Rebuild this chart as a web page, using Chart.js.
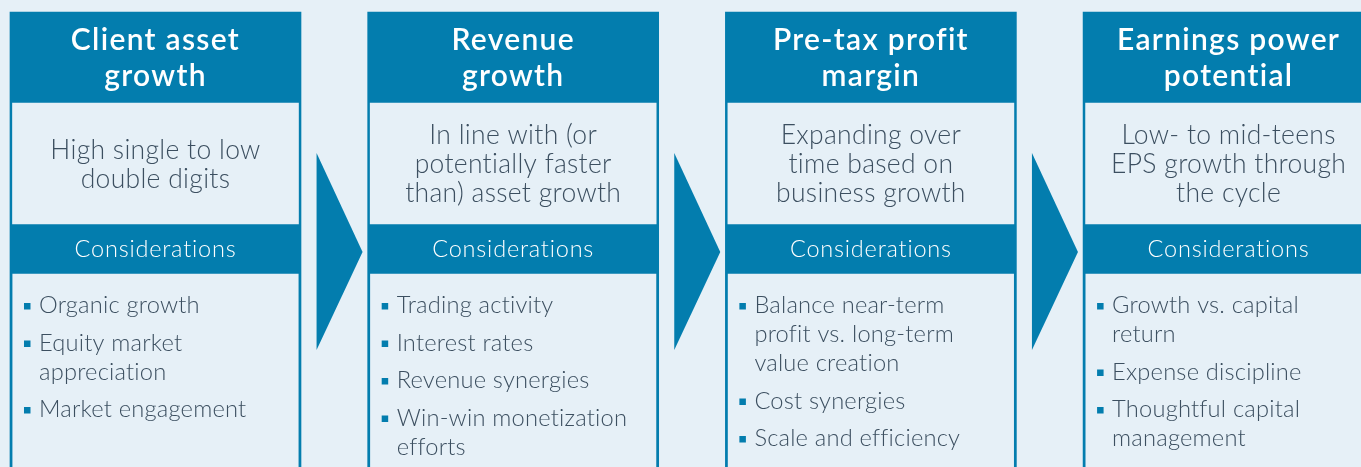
<!DOCTYPE html>
<html>
<head>
<meta charset="utf-8">
<script src="https://cdn.jsdelivr.net/npm/chart.js@4/dist/chart.umd.min.js"></script>
<style>
html,body{margin:0;padding:0;background:#e6f0f7;}
#wrap{width:1361px;height:467px;}
</style>
</head>
<body>
<div id="wrap"><canvas id="c" width="1361" height="467"></canvas></div>
<script>
// ---- content ----
const columns = [0, 1, 2, 3];
const titles = [
  ['Client asset', 'growth'],
  ['Revenue', 'growth'],
  ['Pre-tax profit', 'margin'],
  ['Earnings power', 'potential']
];
const targets = [
  ['High single to low', 'double digits'],
  ['In line with (or', 'potentially faster', 'than) asset growth'],
  ['Expanding over', 'time based on', 'business growth'],
  ['Low- to mid-teens', 'EPS growth through', 'the cycle']
];
const sectionLabel = 'Considerations';
const considerations = [
  [['Organic growth'], ['Equity market', 'appreciation'], ['Market engagement']],
  [['Trading activity'], ['Interest rates'], ['Revenue synergies'], ['Win-win monetization', 'efforts']],
  [['Balance near-term', 'profit vs. long-term', 'value creation'], ['Cost synergies'], ['Scale and efficiency']],
  [['Growth vs. capital', 'return'], ['Expense discipline'], ['Thoughtful capital', 'management']]
];
// band extents on the vertical layout axis (0 = top)
const columnBand = [12, 480];
const targetBand = [103, 224];
const listBand = [274, 480];

const DARK = '#037dae';
const LIGHT = '#e6f0f7';
const TEXT = '#3c4f60';
const FONT = 'Lato, "Open Sans", sans-serif';

function setSpacing(ctx, v) { if ('letterSpacing' in ctx) ctx.letterSpacing = v + 'px'; }

const textPlugin = {
  id: 'diagramText',
  afterDatasetsDraw(chart) {
    const ctx = chart.ctx;
    const xs = chart.scales.x, ys = chart.scales.y;
    ctx.save();
    // arrows between columns
    columns.slice(0, -1).forEach(i => {
      const xa = xs.getPixelForValue(i + 0.4503);
      const xb = xs.getPixelForValue(i + 0.5789);
      ctx.fillStyle = DARK;
      ctx.beginPath();
      ctx.moveTo(xa, ys.getPixelForValue(153));
      ctx.lineTo(xb, ys.getPixelForValue(252));
      ctx.lineTo(xa, ys.getPixelForValue(350));
      ctx.closePath();
      ctx.fill();
    });
    columns.forEach(i => {
      const cx = xs.getPixelForValue(i);
      ctx.textAlign = 'center';
      ctx.textBaseline = 'alphabetic';
      // title
      ctx.fillStyle = '#ffffff';
      ctx.font = '600 30px ' + FONT;
      setSpacing(ctx, 1.3);
      titles[i].forEach((t, k) => ctx.fillText(t, cx, ys.getPixelForValue(50 + k * 36)));
      // target
      ctx.fillStyle = TEXT;
      ctx.font = '300 26.5px ' + FONT;
      setSpacing(ctx, 0.3);
      const n = targets[i].length;
      const b0 = 173 - (n - 1) * 29 / 2;
      targets[i].forEach((t, k) => ctx.fillText(t, cx, ys.getPixelForValue(b0 + k * 29)));
      // section label
      ctx.fillStyle = '#ffffff';
      ctx.font = '300 23.5px ' + FONT;
      setSpacing(ctx, 0.8);
      ctx.fillText(sectionLabel, cx, ys.getPixelForValue(257));
      // bullets
      ctx.textAlign = 'left';
      ctx.font = '300 23.7px ' + FONT;
      setSpacing(ctx, 0.2);
      let base = 313;
      considerations[i].forEach(item => {
        ctx.fillStyle = DARK;
        ctx.fillRect(cx - 131.5, ys.getPixelForValue(base - 10), 6.5, 6.5);
        ctx.fillStyle = TEXT;
        item.forEach((line, k) => {
          ctx.fillText(line, cx - 116.5, ys.getPixelForValue(base));
          if (k < item.length - 1) base += 29;
        });
        base += 37.5;
      });
    });
    ctx.restore();
  }
};

new Chart(document.getElementById('c'), {
  type: 'bar',
  data: {
    datasets: [
      {
        label: 'target band',
        data: columns.map(i => ({ x: i, y: targetBand })),
        backgroundColor: LIGHT, barThickness: 286, grouped: false, order: 0, borderWidth: 0
      },
      {
        label: 'list band',
        data: columns.map(i => ({ x: i, y: listBand })),
        backgroundColor: LIGHT, barThickness: 285.5, grouped: false, order: 0, borderWidth: 0
      },
      {
        label: 'column',
        data: columns.map(i => ({ x: i, y: columnBand })),
        backgroundColor: DARK, barThickness: 291, grouped: false, order: 1, borderWidth: 0
      }
    ]
  },
  options: {
    responsive: false,
    animation: false,
    devicePixelRatio: 1,
    layout: { padding: 0 },
    plugins: { legend: { display: false }, tooltip: { enabled: false } },
    scales: {
      x: { type: 'linear', min: -0.4347, max: 3.3702, offset: false, display: false },
      y: { type: 'linear', min: 0, max: 467, reverse: true, display: false }
    }
  },
  plugins: [textPlugin]
});
</script>
</body>
</html>
